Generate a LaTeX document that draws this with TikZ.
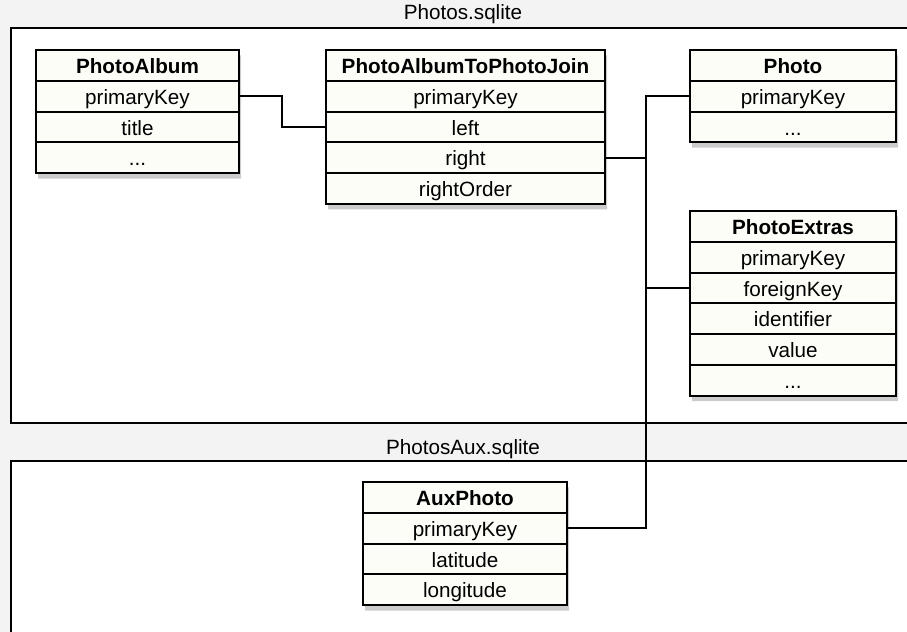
\documentclass[tikz,border=0pt]{standalone}
\usepackage{fontspec}
\setmainfont{Liberation Sans}
\usetikzlibrary{shapes.multipart,shadows}
\definecolor{cellfill}{HTML}{FDFDF8}
\definecolor{pagegray}{HTML}{F3F3F3}
\newcommand{\rs}{\rule[-4.8pt]{0pt}{21.6pt}}

\begin{document}
\begin{tikzpicture}[x=0.75pt,y=-0.75pt,
    every node/.style={font=\fontsize{15.5}{18}\selectfont},
    table/.style 2 args={rectangle split, rectangle split parts=#1, draw,
      line width=1.5pt, fill=cellfill, anchor=north west, inner xsep=0pt,
      inner ysep=0pt, text width=#2, align=center,
      drop shadow={shadow xshift=1.5pt, shadow yshift=-4pt, opacity=0.4}},
    store/.style={draw, line width=1.5pt, fill=white},
    link/.style={line width=1.5pt}]
  \useasboundingbox (0,0) rectangle (907,632);
  \clip (0,0) rectangle (907,632);
  \fill[pagegray] (0,0) rectangle (907,632);

  % the two database files
  \draw[store] (11,28) rectangle (925,423);
  \draw[store] (11,461) rectangle (925,650);
  \node (mainname) at (463,14) {Photos.sqlite};
  \node (auxname) at (463,449) {PhotosAux.sqlite};

  % tables
  \node[table={4}{152.25pt}] (album) at (35,49)
    {\textbf{\rs PhotoAlbum}\nodepart{two}\rs primaryKey\nodepart{three}\rs title\nodepart{four}\rs ...};
  \node[table={5}{209.25pt}] (join) at (325,49)
    {\textbf{\rs PhotoAlbumToPhotoJoin}\nodepart{two}\rs primaryKey\nodepart{three}\rs left\nodepart{four}\rs right\nodepart{five}\rs rightOrder};
  \node[table={3}{154.5pt}] (photo) at (689,49)
    {\textbf{\rs Photo}\nodepart{two}\rs primaryKey\nodepart{three}\rs ...};
  \node[table={6}{154.5pt}] (extras) at (689,210)
    {\textbf{\rs PhotoExtras}\nodepart{two}\rs primaryKey\nodepart{three}\rs foreignKey\nodepart{four}\rs identifier\nodepart{five}\rs value\nodepart{six}\rs ...};
  \node[table={4}{153pt}] (aux) at (362,481)
    {\textbf{\rs AuxPhoto}\nodepart{two}\rs primaryKey\nodepart{three}\rs latitude\nodepart{four}\rs longitude};

  % relations
  \coordinate (trunk) at (646,0);
  \draw[link] (album.two east) -- ++(42,0) |- (join.three west);
  \draw[link] (join.four east) -- (join.four east -| trunk);
  \draw[link] (photo.two west) -| (trunk |- extras.three west) -- (extras.three west);
  \draw[link] (aux.two east) -| (trunk |- extras.three west);
\end{tikzpicture}
\end{document}
